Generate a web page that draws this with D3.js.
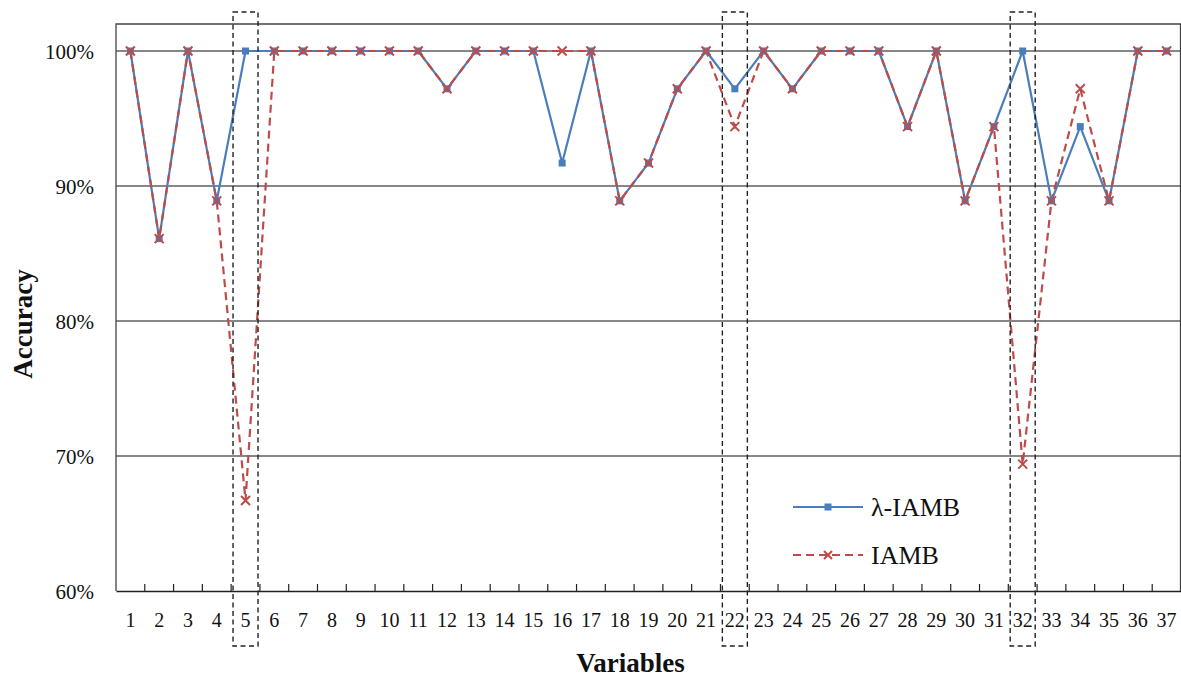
<!DOCTYPE html>
<html>
<head>
<meta charset="utf-8">
<script src="https://cdn.jsdelivr.net/npm/d3@7"></script>
<style>
  html, body { margin: 0; padding: 0; background: #fff; }
  svg { display: block; }
</style>
</head>
<body>
<svg id="chart" width="1181" height="677"></svg>
<script>
// ---- data ----
const categories = d3.range(1, 38).map(String);
const lambdaIAMB = [100, 86.1, 100, 88.9, 100, 100, 100, 100, 100, 100,
                    100, 97.2, 100, 100, 100, 91.7, 100, 88.9, 91.7, 97.2,
                    100, 97.2, 100, 97.2, 100, 100, 100, 94.4, 100, 88.9,
                    94.4, 100, 88.9, 94.4, 88.9, 100, 100];
const IAMB = [100, 86.1, 100, 88.9, 66.7, 100, 100, 100, 100, 100,
              100, 97.2, 100, 100, 100, 100, 100, 88.9, 91.7, 97.2,
              100, 94.4, 100, 97.2, 100, 100, 100, 94.4, 100, 88.9,
              94.4, 69.4, 88.9, 97.2, 88.9, 100, 100];
const yTicks = [60, 70, 80, 90, 100];
const highlighted = ["5", "22", "32"];
const seriesNames = ["λ-IAMB", "IAMB"];

// ---- layout ----
const W = 1181, H = 677;
const plot = { left: 116, right: 1181, top: 24, bottom: 591 };
const blue = "#4A7EBB", red = "#BE4B48";
const serif = "'Liberation Serif', 'DejaVu Serif', serif";

const svg = d3.select("#chart");

const x = d3.scaleBand().domain(categories).range([plot.left, plot.right]).paddingInner(0).paddingOuter(0);
const y = d3.scaleLinear().domain([60, 102]).range([plot.bottom, plot.top]);
const cx = c => x(c) + x.bandwidth() / 2;

// gridlines
svg.append("g").selectAll("line").data(yTicks.filter(t => t > 60)).join("line")
  .attr("x1", plot.left).attr("x2", plot.right)
  .attr("y1", d => y(d)).attr("y2", d => y(d))
  .attr("stroke", "#111").attr("stroke-width", 1.2);

// frame (top, left, right)
svg.append("path")
  .attr("d", `M${plot.left},${plot.bottom}V${plot.top}H${plot.right - 0.5}V${plot.bottom}`)
  .attr("fill", "none").attr("stroke", "#444").attr("stroke-width", 1.3);

// x axis
const xAxis = d3.axisBottom(x).tickSize(0).tickPadding(0);
const gx = svg.append("g").attr("transform", `translate(0,${plot.bottom})`).call(xAxis);
gx.select(".domain").attr("stroke", "#222").attr("stroke-width", 1.3);
gx.selectAll("text")
  .attr("y", 36).attr("dy", null)
  .attr("font-family", serif).attr("font-size", 20).attr("fill", "#111");
// upward ticks at band boundaries
svg.append("g").selectAll("line").data(categories.slice(1)).join("line")
  .attr("x1", d => x(d)).attr("x2", d => x(d))
  .attr("y1", plot.bottom).attr("y2", plot.bottom - 7)
  .attr("stroke", "#222").attr("stroke-width", 1.2);

// y axis labels
const yAxis = d3.axisLeft(y).tickValues(yTicks).tickSize(0).tickPadding(0).tickFormat(d => d + "%");
const gy = svg.append("g").attr("transform", `translate(${plot.left},0)`).call(yAxis);
gy.select(".domain").remove();
gy.selectAll("text")
  .attr("x", -22).attr("dy", "0.35em")
  .attr("font-family", serif).attr("font-size", 21).attr("fill", "#111");

// axis titles
svg.append("text")
  .attr("x", (575 + 686) / 2).attr("y", 672)
  .attr("text-anchor", "middle")
  .attr("font-family", serif).attr("font-weight", "bold").attr("font-size", 27)
  .attr("fill", "#111").text("Variables");
svg.append("text")
  .attr("transform", "translate(32,324) rotate(-90)")
  .attr("text-anchor", "middle")
  .attr("font-family", serif).attr("font-weight", "bold").attr("font-size", 27)
  .attr("fill", "#111").text("Accuracy");

// lines
const line = d3.line().x((d, i) => cx(categories[i])).y(d => y(d));

svg.append("path").datum(lambdaIAMB)
  .attr("d", line).attr("fill", "none")
  .attr("stroke", blue).attr("stroke-width", 2.2).attr("stroke-linejoin", "round");

svg.append("path").datum(IAMB)
  .attr("d", line).attr("fill", "none")
  .attr("stroke", red).attr("stroke-width", 2.2).attr("stroke-dasharray", "8,5");

// markers
function xMark(g, px, py, s) {
  g.append("path")
    .attr("d", `M${px - s},${py - s}L${px + s},${py + s}M${px - s},${py + s}L${px + s},${py - s}`)
    .attr("stroke", red).attr("stroke-width", 2).attr("fill", "none");
}
const gm = svg.append("g");
lambdaIAMB.forEach((v, i) => {
  gm.append("rect").attr("x", cx(categories[i]) - 3.5).attr("y", y(v) - 3.5)
    .attr("width", 7).attr("height", 7).attr("fill", blue);
});
IAMB.forEach((v, i) => xMark(gm, cx(categories[i]), y(v), 4.5));

// highlight boxes
svg.append("g").selectAll("rect").data(highlighted).join("rect")
  .attr("x", d => cx(d) - 12.5).attr("width", 25)
  .attr("y", 12).attr("height", 646 - 12)
  .attr("fill", "none").attr("stroke", "#222").attr("stroke-width", 1.4)
  .attr("stroke-dasharray", "5,3.5");

// legend
const legend = svg.append("g");
const legY = [507, 555];
legend.append("line").attr("x1", 793).attr("x2", 863).attr("y1", legY[0]).attr("y2", legY[0])
  .attr("stroke", blue).attr("stroke-width", 2.2);
legend.append("rect").attr("x", 828 - 3.5).attr("y", legY[0] - 3.5).attr("width", 7).attr("height", 7).attr("fill", blue);
legend.append("line").attr("x1", 793).attr("x2", 863).attr("y1", legY[1]).attr("y2", legY[1])
  .attr("stroke", red).attr("stroke-width", 2.2).attr("stroke-dasharray", "8,5");
xMark(legend, 828, legY[1], 4);
legend.selectAll("text").data(seriesNames).join("text")
  .attr("x", 871).attr("y", (d, i) => legY[i]).attr("dy", "0.35em")
  .attr("font-family", serif).attr("font-size", 26).attr("fill", "#111")
  .text(d => d);
</script>
</body>
</html>
